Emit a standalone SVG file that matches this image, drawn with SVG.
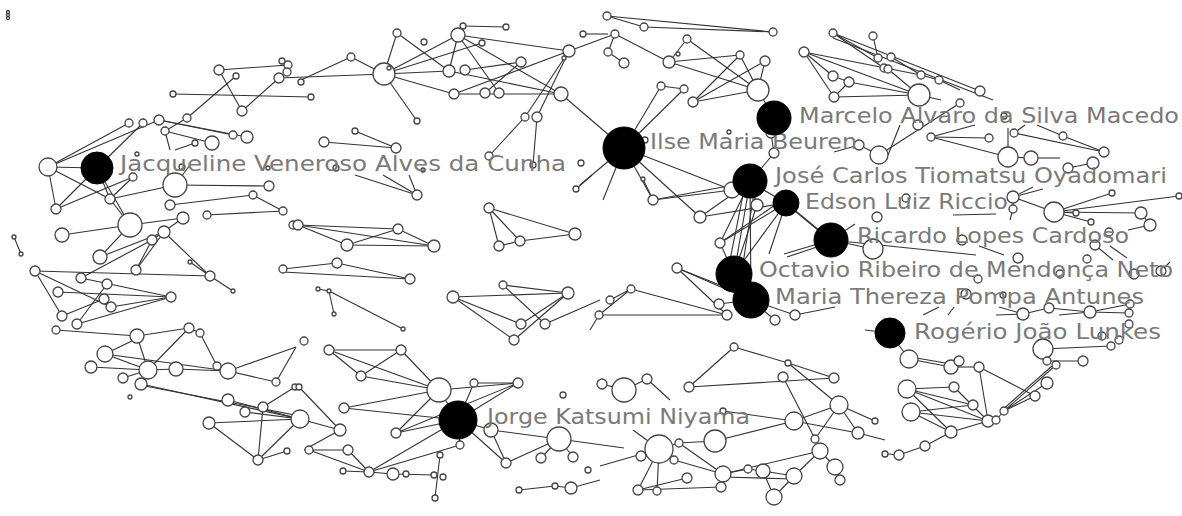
<svg xmlns="http://www.w3.org/2000/svg" width="1182" height="516" viewBox="0 0 1182 516">
<style>
.e line{stroke:#333;stroke-width:1.1}
.n circle{fill:#fff;stroke:#444;stroke-width:1.3}
.k circle{fill:#000;stroke:#000;stroke-width:1}
.k text{font-family:"DejaVu Sans",Verdana,sans-serif;font-size:21px;fill:#7a7a7a}
</style>
<rect width="1182" height="516" fill="#fff"/>
<g id="connectors" class="e">
<line x1="219" y1="70" x2="288" y2="65"/><line x1="219" y1="70" x2="242" y2="111"/><line x1="236" y1="76" x2="187" y2="118"/><line x1="242" y1="111" x2="279" y2="78"/><line x1="173" y1="94" x2="311" y2="97"/>
<line x1="129" y1="123" x2="48" y2="167"/><line x1="159" y1="120" x2="48" y2="167"/><line x1="143" y1="123" x2="97" y2="168"/><line x1="159" y1="120" x2="247" y2="137"/><line x1="159" y1="120" x2="233" y2="135"/><line x1="165" y1="131" x2="212" y2="143"/><line x1="165" y1="131" x2="170" y2="150"/><line x1="187" y1="118" x2="165" y2="131"/><line x1="195" y1="143" x2="175" y2="150"/><line x1="48" y1="167" x2="97" y2="168"/>
<line x1="384" y1="74" x2="351" y2="57"/><line x1="351" y1="57" x2="301" y2="80"/><line x1="279" y1="78" x2="384" y2="74"/><line x1="384" y1="74" x2="397" y2="33"/><line x1="397" y1="33" x2="449" y2="71"/><line x1="384" y1="74" x2="417" y2="121"/><line x1="384" y1="74" x2="458" y2="35"/><line x1="384" y1="74" x2="482" y2="43"/><line x1="384" y1="74" x2="449" y2="71"/><line x1="384" y1="74" x2="454" y2="94"/><line x1="463" y1="26" x2="506" y2="27"/><line x1="458" y1="35" x2="449" y2="71"/><line x1="458" y1="35" x2="499" y2="93"/><line x1="458" y1="35" x2="569" y2="51"/><line x1="458" y1="35" x2="561" y2="94"/><line x1="465" y1="70" x2="521" y2="62"/><line x1="449" y1="71" x2="561" y2="94"/><line x1="454" y1="94" x2="561" y2="94"/><line x1="454" y1="94" x2="569" y2="51"/><line x1="485" y1="93" x2="521" y2="62"/><line x1="525" y1="117" x2="569" y2="51"/><line x1="537" y1="117" x2="569" y2="51"/><line x1="525" y1="117" x2="489" y2="156"/><line x1="537" y1="117" x2="533" y2="165"/><line x1="569" y1="51" x2="615" y2="34"/><line x1="583" y1="34" x2="608" y2="34"/><line x1="324" y1="142" x2="396" y2="148"/><line x1="355" y1="131" x2="396" y2="148"/><line x1="561" y1="94" x2="624" y2="148"/>
<line x1="607" y1="16" x2="773" y2="32"/><line x1="644" y1="27" x2="773" y2="32"/><line x1="607" y1="16" x2="644" y2="27"/><line x1="615" y1="34" x2="669" y2="62"/><line x1="615" y1="34" x2="608" y2="52"/><line x1="608" y1="52" x2="624" y2="63"/><line x1="669" y1="62" x2="687" y2="39"/><line x1="669" y1="62" x2="740" y2="55"/><line x1="669" y1="62" x2="758" y2="90"/><line x1="687" y1="39" x2="758" y2="90"/><line x1="740" y1="55" x2="693" y2="102"/><line x1="765" y1="61" x2="693" y2="102"/><line x1="765" y1="61" x2="758" y2="90"/><line x1="740" y1="55" x2="758" y2="90"/><line x1="758" y1="90" x2="774" y2="118"/><line x1="758" y1="90" x2="693" y2="102"/><line x1="624" y1="148" x2="661" y2="86"/><line x1="624" y1="148" x2="684" y2="89"/><line x1="661" y1="86" x2="684" y2="89"/>
<line x1="804" y1="52" x2="834" y2="97"/><line x1="804" y1="52" x2="833" y2="76"/><line x1="833" y1="76" x2="849" y2="82"/><line x1="834" y1="97" x2="849" y2="82"/><line x1="833" y1="33" x2="884" y2="68"/><line x1="833" y1="33" x2="878" y2="58"/><line x1="873" y1="36" x2="878" y2="58"/><line x1="804" y1="52" x2="921" y2="75"/><line x1="833" y1="33" x2="980" y2="91"/><line x1="833" y1="38" x2="993" y2="100"/><line x1="804" y1="52" x2="919" y2="95"/><line x1="834" y1="97" x2="919" y2="95"/><line x1="849" y1="82" x2="919" y2="95"/>
<line x1="774" y1="118" x2="787" y2="109"/><line x1="774" y1="118" x2="771" y2="133"/><line x1="774" y1="153" x2="771" y2="133"/><line x1="774" y1="153" x2="750" y2="182"/><line x1="859" y1="145" x2="879" y2="155"/><line x1="834" y1="152" x2="859" y2="145"/>
<line x1="624" y1="148" x2="580" y2="185"/><line x1="624" y1="148" x2="603" y2="200"/><line x1="624" y1="148" x2="653" y2="200"/><line x1="624" y1="148" x2="645" y2="140"/><line x1="624" y1="148" x2="732" y2="190"/><line x1="624" y1="148" x2="700" y2="217"/>
<line x1="891" y1="57" x2="921" y2="75"/><line x1="888" y1="69" x2="919" y2="95"/><line x1="921" y1="75" x2="939" y2="80"/><line x1="939" y1="80" x2="960" y2="90"/><line x1="919" y1="95" x2="941" y2="100"/><line x1="1014" y1="133" x2="1104" y2="152"/><line x1="989" y1="138" x2="931" y2="137"/><line x1="931" y1="137" x2="1008" y2="157"/><line x1="1008" y1="157" x2="1008" y2="128"/><line x1="1008" y1="157" x2="1031" y2="158"/><line x1="1031" y1="158" x2="1060" y2="158"/><line x1="1037" y1="125" x2="1063" y2="136"/><line x1="1063" y1="136" x2="1104" y2="152"/><line x1="888" y1="155" x2="900" y2="125"/><line x1="931" y1="137" x2="975" y2="125"/><line x1="1068" y1="168" x2="1093" y2="163"/><line x1="1014" y1="133" x2="1025" y2="125"/><line x1="879" y1="155" x2="960" y2="103"/>
<line x1="175" y1="185" x2="269" y2="186"/><line x1="253" y1="195" x2="170" y2="205"/><line x1="253" y1="195" x2="283" y2="211"/><line x1="207" y1="215" x2="283" y2="211"/><line x1="130" y1="225" x2="183" y2="218"/><line x1="130" y1="225" x2="62" y2="235"/><line x1="130" y1="225" x2="110" y2="199"/><line x1="130" y1="225" x2="100" y2="257"/><line x1="130" y1="225" x2="97" y2="168"/><line x1="164" y1="232" x2="100" y2="257"/><line x1="152" y1="240" x2="81" y2="278"/><line x1="152" y1="240" x2="136" y2="270"/><line x1="164" y1="232" x2="210" y2="276"/><line x1="190" y1="262" x2="210" y2="276"/><line x1="210" y1="276" x2="233" y2="291"/><line x1="35" y1="271" x2="210" y2="276"/><line x1="35" y1="271" x2="62" y2="316"/><line x1="35" y1="271" x2="111" y2="307"/><line x1="81" y1="278" x2="171" y2="297"/><line x1="58" y1="292" x2="171" y2="297"/><line x1="104" y1="299" x2="62" y2="316"/><line x1="111" y1="307" x2="171" y2="297"/><line x1="77" y1="324" x2="107" y2="284"/><line x1="77" y1="324" x2="171" y2="297"/><line x1="56" y1="330" x2="137" y2="336"/><line x1="137" y1="336" x2="189" y2="328"/><line x1="189" y1="328" x2="200" y2="333"/><line x1="14" y1="237" x2="21" y2="254"/><line x1="56" y1="209" x2="97" y2="168"/><line x1="56" y1="209" x2="133" y2="177"/><line x1="110" y1="199" x2="133" y2="177"/><line x1="110" y1="199" x2="175" y2="185"/><line x1="97" y1="168" x2="110" y2="199"/><line x1="175" y1="185" x2="190" y2="165"/><line x1="48" y1="167" x2="56" y2="209"/><line x1="48" y1="167" x2="110" y2="199"/><line x1="152" y1="240" x2="183" y2="218"/><line x1="164" y1="232" x2="136" y2="270"/>
<line x1="417" y1="195" x2="355" y2="175"/><line x1="417" y1="195" x2="383" y2="175"/><line x1="417" y1="195" x2="409" y2="175"/><line x1="489" y1="208" x2="499" y2="246"/><line x1="489" y1="208" x2="520" y2="241"/><line x1="489" y1="208" x2="575" y2="234"/><line x1="499" y1="246" x2="520" y2="241"/><line x1="520" y1="241" x2="575" y2="234"/><line x1="298" y1="225" x2="398" y2="229"/><line x1="298" y1="225" x2="347" y2="245"/><line x1="298" y1="225" x2="434" y2="246"/><line x1="347" y1="245" x2="398" y2="229"/><line x1="347" y1="245" x2="434" y2="246"/><line x1="398" y1="229" x2="434" y2="246"/><line x1="283" y1="269" x2="337" y2="263"/><line x1="337" y1="263" x2="410" y2="279"/><line x1="283" y1="272" x2="410" y2="279"/><line x1="318" y1="289" x2="329" y2="291"/><line x1="329" y1="291" x2="334" y2="314"/><line x1="329" y1="291" x2="403" y2="329"/><line x1="453" y1="297" x2="568" y2="293"/><line x1="453" y1="297" x2="521" y2="324"/><line x1="453" y1="297" x2="514" y2="340"/><line x1="503" y1="285" x2="568" y2="293"/><line x1="503" y1="285" x2="545" y2="324"/><line x1="568" y1="293" x2="514" y2="340"/><line x1="568" y1="293" x2="521" y2="324"/><line x1="545" y1="324" x2="600" y2="300"/><line x1="576" y1="189" x2="592" y2="175"/>
<line x1="750" y1="182" x2="653" y2="200"/><line x1="750" y1="182" x2="700" y2="217"/><line x1="750" y1="182" x2="720" y2="243"/><line x1="750" y1="182" x2="734" y2="274"/><line x1="745" y1="185" x2="728" y2="270"/><line x1="755" y1="186" x2="742" y2="270"/><line x1="750" y1="182" x2="751" y2="300"/><line x1="750" y1="182" x2="757" y2="205"/><line x1="750" y1="182" x2="786" y2="203"/><line x1="786" y1="203" x2="700" y2="217"/><line x1="786" y1="203" x2="831" y2="240"/><line x1="790" y1="207" x2="835" y2="244"/><line x1="786" y1="203" x2="734" y2="274"/><line x1="786" y1="203" x2="769" y2="254"/><line x1="786" y1="203" x2="720" y2="243"/><line x1="831" y1="240" x2="873" y2="249"/><line x1="831" y1="240" x2="784" y2="254"/><line x1="826" y1="244" x2="787" y2="257"/><line x1="831" y1="240" x2="976" y2="255"/><line x1="831" y1="240" x2="855" y2="224"/><line x1="653" y1="200" x2="643" y2="179"/><line x1="653" y1="200" x2="732" y2="190"/><line x1="720" y1="243" x2="775" y2="205"/><line x1="677" y1="268" x2="751" y2="300"/><line x1="677" y1="268" x2="745" y2="295"/><line x1="677" y1="268" x2="727" y2="315"/><line x1="599" y1="315" x2="727" y2="315"/><line x1="599" y1="315" x2="631" y2="289"/><line x1="610" y1="300" x2="631" y2="289"/><line x1="631" y1="289" x2="727" y2="315"/><line x1="734" y1="274" x2="751" y2="300"/><line x1="751" y1="300" x2="775" y2="320"/><line x1="751" y1="300" x2="795" y2="315"/><line x1="795" y1="315" x2="835" y2="307"/><line x1="719" y1="304" x2="751" y2="300"/><line x1="734" y1="274" x2="720" y2="243"/><line x1="734" y1="274" x2="757" y2="205"/>
<line x1="1054" y1="212" x2="1112" y2="193"/><line x1="1054" y1="212" x2="1179" y2="196"/><line x1="1054" y1="212" x2="1141" y2="213"/><line x1="1054" y1="212" x2="1091" y2="222"/><line x1="1054" y1="212" x2="1076" y2="213"/><line x1="1141" y1="213" x2="1150" y2="225"/><line x1="1150" y1="225" x2="1128" y2="230"/><line x1="1013" y1="197" x2="1033" y2="187"/><line x1="1013" y1="197" x2="1043" y2="189"/><line x1="1013" y1="209" x2="1010" y2="220"/><line x1="953" y1="215" x2="996" y2="214"/><line x1="979" y1="246" x2="1004" y2="255"/><line x1="1095" y1="245" x2="1113" y2="260"/><line x1="1110" y1="246" x2="1127" y2="258"/><line x1="999" y1="307" x2="1023" y2="314"/><line x1="996" y1="315" x2="1023" y2="314"/><line x1="1023" y1="314" x2="1049" y2="308"/><line x1="1049" y1="308" x2="1090" y2="312"/><line x1="1059" y1="315" x2="1090" y2="312"/><line x1="1090" y1="312" x2="1130" y2="304"/><line x1="1090" y1="312" x2="1129" y2="313"/><line x1="939" y1="307" x2="923" y2="315"/><line x1="954" y1="307" x2="948" y2="315"/><line x1="1013" y1="197" x2="1013" y2="209"/><line x1="1054" y1="212" x2="1013" y2="197"/><line x1="1161" y1="271" x2="1170" y2="262"/>
<line x1="105" y1="354" x2="148" y2="370"/><line x1="91" y1="367" x2="148" y2="370"/><line x1="105" y1="354" x2="228" y2="371"/><line x1="148" y1="370" x2="176" y2="369"/><line x1="176" y1="369" x2="228" y2="371"/><line x1="141" y1="384" x2="300" y2="419"/><line x1="145" y1="386" x2="300" y2="416"/><line x1="228" y1="400" x2="300" y2="419"/><line x1="245" y1="412" x2="300" y2="419"/><line x1="209" y1="423" x2="300" y2="419"/><line x1="209" y1="423" x2="258" y2="460"/><line x1="263" y1="407" x2="258" y2="460"/><line x1="258" y1="460" x2="300" y2="419"/><line x1="228" y1="371" x2="296" y2="347"/><line x1="228" y1="371" x2="276" y2="382"/><line x1="276" y1="382" x2="296" y2="347"/><line x1="123" y1="378" x2="148" y2="370"/><line x1="141" y1="384" x2="148" y2="370"/><line x1="105" y1="354" x2="140" y2="337"/><line x1="148" y1="370" x2="137" y2="336"/><line x1="148" y1="370" x2="189" y2="328"/><line x1="217" y1="366" x2="200" y2="333"/><line x1="258" y1="460" x2="287" y2="451"/><line x1="263" y1="407" x2="295" y2="387"/>
<line x1="329" y1="350" x2="401" y2="350"/><line x1="329" y1="350" x2="439" y2="390"/><line x1="329" y1="350" x2="361" y2="376"/><line x1="401" y1="350" x2="361" y2="376"/><line x1="401" y1="350" x2="439" y2="390"/><line x1="361" y1="376" x2="439" y2="390"/><line x1="439" y1="390" x2="458" y2="420"/><line x1="439" y1="390" x2="518" y2="383"/><line x1="474" y1="383" x2="458" y2="420"/><line x1="518" y1="383" x2="458" y2="420"/><line x1="474" y1="383" x2="518" y2="383"/><line x1="344" y1="408" x2="439" y2="390"/><line x1="344" y1="408" x2="458" y2="420"/><line x1="396" y1="433" x2="458" y2="420"/><line x1="396" y1="433" x2="439" y2="390"/><line x1="396" y1="433" x2="518" y2="383"/><line x1="458" y1="420" x2="460" y2="445"/><line x1="458" y1="420" x2="369" y2="472"/><line x1="458" y1="420" x2="491" y2="430"/><line x1="458" y1="420" x2="506" y2="463"/><line x1="491" y1="430" x2="559" y2="439"/><line x1="491" y1="430" x2="506" y2="463"/><line x1="506" y1="463" x2="559" y2="439"/><line x1="299" y1="387" x2="340" y2="430"/><line x1="300" y1="419" x2="340" y2="430"/><line x1="309" y1="450" x2="369" y2="472"/><line x1="348" y1="450" x2="369" y2="472"/><line x1="309" y1="450" x2="348" y2="450"/><line x1="343" y1="471" x2="369" y2="472"/><line x1="369" y1="472" x2="393" y2="474"/><line x1="393" y1="474" x2="434" y2="475"/><line x1="440" y1="455" x2="435" y2="498"/><line x1="519" y1="490" x2="555" y2="486"/><line x1="369" y1="472" x2="460" y2="445"/><line x1="541" y1="458" x2="559" y2="439"/><line x1="573" y1="457" x2="559" y2="439"/><line x1="559" y1="439" x2="624" y2="448"/><line x1="555" y1="486" x2="571" y2="488"/><line x1="571" y1="488" x2="600" y2="480"/><line x1="340" y1="430" x2="304" y2="450"/>
<line x1="734" y1="347" x2="689" y2="387"/><line x1="734" y1="347" x2="788" y2="363"/><line x1="788" y1="363" x2="834" y2="378"/><line x1="689" y1="387" x2="834" y2="378"/><line x1="783" y1="377" x2="815" y2="439"/><line x1="788" y1="363" x2="839" y2="405"/><line x1="839" y1="405" x2="794" y2="421"/><line x1="839" y1="405" x2="858" y2="433"/><line x1="839" y1="405" x2="815" y2="439"/><line x1="839" y1="405" x2="875" y2="421"/><line x1="794" y1="421" x2="715" y2="441"/><line x1="794" y1="421" x2="723" y2="411"/><line x1="794" y1="421" x2="858" y2="433"/><line x1="858" y1="433" x2="885" y2="440"/><line x1="659" y1="449" x2="679" y2="443"/><line x1="659" y1="449" x2="641" y2="456"/><line x1="659" y1="449" x2="674" y2="460"/><line x1="679" y1="443" x2="715" y2="441"/><line x1="679" y1="443" x2="723" y2="474"/><line x1="674" y1="460" x2="723" y2="474"/><line x1="723" y1="474" x2="748" y2="469"/><line x1="748" y1="469" x2="763" y2="471"/><line x1="763" y1="471" x2="794" y2="476"/><line x1="794" y1="476" x2="820" y2="451"/><line x1="723" y1="474" x2="721" y2="487"/><line x1="763" y1="471" x2="774" y2="497"/><line x1="794" y1="476" x2="774" y2="497"/><line x1="820" y1="451" x2="835" y2="467"/><line x1="835" y1="467" x2="840" y2="480"/><line x1="659" y1="449" x2="638" y2="490"/><line x1="659" y1="449" x2="657" y2="491"/><line x1="602" y1="384" x2="624" y2="390"/><line x1="624" y1="390" x2="647" y2="379"/><line x1="647" y1="379" x2="670" y2="400"/><line x1="659" y1="449" x2="633" y2="430"/><line x1="659" y1="449" x2="600" y2="466"/><line x1="638" y1="490" x2="721" y2="487"/><line x1="687" y1="478" x2="638" y2="490"/><line x1="723" y1="474" x2="820" y2="451"/><line x1="723" y1="477" x2="794" y2="479"/><line x1="599" y1="315" x2="590" y2="330"/>
<line x1="909" y1="359" x2="951" y2="367"/><line x1="905" y1="356" x2="951" y2="364"/><line x1="951" y1="367" x2="979" y2="367"/><line x1="979" y1="367" x2="1035" y2="396"/><line x1="979" y1="367" x2="988" y2="421"/><line x1="1043" y1="349" x2="1111" y2="346"/><line x1="1047" y1="361" x2="1083" y2="361"/><line x1="1056" y1="365" x2="1004" y2="411"/><line x1="1047" y1="383" x2="1004" y2="411"/><line x1="1035" y1="396" x2="1004" y2="411"/><line x1="907" y1="389" x2="954" y2="387"/><line x1="907" y1="389" x2="973" y2="405"/><line x1="907" y1="389" x2="988" y2="421"/><line x1="911" y1="412" x2="973" y2="405"/><line x1="911" y1="412" x2="988" y2="421"/><line x1="911" y1="412" x2="951" y2="432"/><line x1="951" y1="432" x2="988" y2="421"/><line x1="951" y1="432" x2="925" y2="446"/><line x1="925" y1="446" x2="899" y2="455"/><line x1="907" y1="389" x2="951" y2="432"/><line x1="1052" y1="366" x2="1000" y2="412"/><line x1="888" y1="454" x2="899" y2="455"/><line x1="996" y1="420" x2="1004" y2="411"/><line x1="909" y1="359" x2="890" y2="333"/><line x1="890" y1="333" x2="865" y2="330"/><line x1="954" y1="387" x2="988" y2="421"/>
</g>
<g id="mark" class="n"><circle cx="8" cy="12" r="1.5"/><circle cx="8" cy="15" r="1.5"/><circle cx="8" cy="18" r="1.5"/></g>
<g id="w1" class="n"><circle cx="219" cy="70" r="5"/></g><g id="w2" class="n"><circle cx="236" cy="76" r="3"/></g><g id="w3" class="n"><circle cx="282" cy="61" r="3"/></g><g id="w4" class="n"><circle cx="288" cy="65" r="4"/></g><g id="w5" class="n"><circle cx="287" cy="72" r="4"/></g><g id="w6" class="n"><circle cx="279" cy="78" r="5"/></g><g id="w7" class="n"><circle cx="173" cy="94" r="3"/></g><g id="w8" class="n"><circle cx="242" cy="111" r="5"/></g><g id="w9" class="n"><circle cx="187" cy="118" r="4"/></g><g id="w10" class="n"><circle cx="129" cy="123" r="4"/></g><g id="w11" class="n"><circle cx="143" cy="123" r="4"/></g><g id="w12" class="n"><circle cx="159" cy="120" r="5"/></g><g id="w13" class="n"><circle cx="165" cy="131" r="4"/></g><g id="w14" class="n"><circle cx="195" cy="143" r="3"/></g><g id="w15" class="n"><circle cx="212" cy="143" r="7"/></g><g id="w16" class="n"><circle cx="233" cy="135" r="4"/></g><g id="w17" class="n"><circle cx="247" cy="137" r="6"/></g><g id="w18" class="n"><circle cx="48" cy="167" r="9"/></g><g id="w19" class="n"><circle cx="182" cy="167" r="3"/></g><g id="w20" class="n"><circle cx="268" cy="168" r="2"/></g><g id="w21" class="n"><circle cx="137" cy="154" r="2"/></g>
<g id="w22" class="n"><circle cx="397" cy="33" r="4"/></g><g id="w23" class="n"><circle cx="424" cy="42" r="3"/></g><g id="w24" class="n"><circle cx="351" cy="57" r="4"/></g><g id="w25" class="n"><circle cx="384" cy="74" r="11"/></g><g id="w26" class="n"><circle cx="389" cy="68" r="2"/></g><g id="w27" class="n"><circle cx="301" cy="82" r="3"/></g><g id="w28" class="n"><circle cx="311" cy="97" r="3"/></g><g id="w29" class="n"><circle cx="417" cy="121" r="3"/></g><g id="w30" class="n"><circle cx="463" cy="26" r="3"/></g><g id="w31" class="n"><circle cx="506" cy="27" r="3"/></g><g id="w32" class="n"><circle cx="458" cy="35" r="7"/></g><g id="w33" class="n"><circle cx="482" cy="43" r="3"/></g><g id="w34" class="n"><circle cx="449" cy="71" r="6"/></g><g id="w35" class="n"><circle cx="465" cy="70" r="5"/></g><g id="w36" class="n"><circle cx="521" cy="62" r="5"/></g><g id="w37" class="n"><circle cx="569" cy="51" r="6"/></g><g id="w38" class="n"><circle cx="583" cy="34" r="3"/></g><g id="w39" class="n"><circle cx="564" cy="58" r="2"/></g><g id="w40" class="n"><circle cx="454" cy="94" r="5"/></g><g id="w41" class="n"><circle cx="485" cy="93" r="5"/></g><g id="w42" class="n"><circle cx="499" cy="93" r="5"/></g><g id="w43" class="n"><circle cx="561" cy="94" r="7"/></g><g id="w44" class="n"><circle cx="525" cy="117" r="4"/></g><g id="w45" class="n"><circle cx="537" cy="117" r="5"/></g><g id="w46" class="n"><circle cx="324" cy="142" r="5"/></g><g id="w47" class="n"><circle cx="355" cy="131" r="3"/></g><g id="w48" class="n"><circle cx="396" cy="148" r="5"/></g><g id="w49" class="n"><circle cx="489" cy="156" r="4"/></g><g id="w50" class="n"><circle cx="533" cy="165" r="3"/></g><g id="w51" class="n"><circle cx="581" cy="163" r="3"/></g><g id="w52" class="n"><circle cx="336" cy="168" r="3"/></g><g id="w53" class="n"><circle cx="423" cy="170" r="2"/></g>
<g id="w54" class="n"><circle cx="607" cy="16" r="4"/></g><g id="w55" class="n"><circle cx="644" cy="27" r="4"/></g><g id="w56" class="n"><circle cx="773" cy="32" r="4"/></g><g id="w57" class="n"><circle cx="615" cy="34" r="4"/></g><g id="w58" class="n"><circle cx="608" cy="52" r="4"/></g><g id="w59" class="n"><circle cx="624" cy="63" r="5"/></g><g id="w60" class="n"><circle cx="687" cy="39" r="4"/></g><g id="w61" class="n"><circle cx="678" cy="54" r="2"/></g><g id="w62" class="n"><circle cx="669" cy="62" r="6"/></g><g id="w63" class="n"><circle cx="740" cy="55" r="4"/></g><g id="w64" class="n"><circle cx="765" cy="61" r="5"/></g><g id="w65" class="n"><circle cx="758" cy="90" r="11"/></g><g id="w66" class="n"><circle cx="693" cy="102" r="5"/></g><g id="w67" class="n"><circle cx="661" cy="86" r="4"/></g><g id="w68" class="n"><circle cx="684" cy="89" r="4"/></g><g id="w69" class="n"><circle cx="804" cy="52" r="5"/></g><g id="w70" class="n"><circle cx="833" cy="33" r="4"/></g><g id="w71" class="n"><circle cx="873" cy="36" r="4"/></g><g id="w72" class="n"><circle cx="878" cy="58" r="4"/></g><g id="w73" class="n"><circle cx="884" cy="68" r="4"/></g><g id="w74" class="n"><circle cx="833" cy="76" r="5"/></g><g id="w75" class="n"><circle cx="849" cy="82" r="5"/></g><g id="w76" class="n"><circle cx="834" cy="97" r="5"/></g><g id="w77" class="n"><circle cx="771" cy="133" r="5"/></g><g id="w78" class="n"><circle cx="774" cy="153" r="5"/></g><g id="w79" class="n"><circle cx="729" cy="132" r="2"/></g><g id="w80" class="n"><circle cx="645" cy="140" r="3"/></g><g id="w81" class="n"><circle cx="859" cy="145" r="5"/></g><g id="w82" class="n"><circle cx="879" cy="155" r="9"/></g>
<g id="w83" class="n"><circle cx="891" cy="57" r="4"/></g><g id="w84" class="n"><circle cx="888" cy="69" r="4"/></g><g id="w85" class="n"><circle cx="921" cy="75" r="4"/></g><g id="w86" class="n"><circle cx="939" cy="80" r="4"/></g><g id="w87" class="n"><circle cx="980" cy="91" r="5"/></g><g id="w88" class="n"><circle cx="919" cy="95" r="11"/></g><g id="w89" class="n"><circle cx="960" cy="103" r="4"/></g><g id="w90" class="n"><circle cx="1004" cy="116" r="3"/></g><g id="w91" class="n"><circle cx="918" cy="125" r="5"/></g><g id="w92" class="n"><circle cx="931" cy="137" r="4"/></g><g id="w93" class="n"><circle cx="989" cy="138" r="4"/></g><g id="w94" class="n"><circle cx="1014" cy="133" r="4"/></g><g id="w95" class="n"><circle cx="1063" cy="136" r="4"/></g><g id="w96" class="n"><circle cx="1104" cy="152" r="5"/></g><g id="w97" class="n"><circle cx="1008" cy="157" r="10"/></g><g id="w98" class="n"><circle cx="1031" cy="158" r="7"/></g><g id="w99" class="n"><circle cx="1068" cy="168" r="5"/></g><g id="w100" class="n"><circle cx="1093" cy="163" r="6"/></g>
<g id="w101" class="n"><circle cx="133" cy="177" r="4"/></g><g id="w102" class="n"><circle cx="175" cy="185" r="12"/></g><g id="w103" class="n"><circle cx="269" cy="186" r="5"/></g><g id="w104" class="n"><circle cx="253" cy="195" r="4"/></g><g id="w105" class="n"><circle cx="283" cy="211" r="4"/></g><g id="w106" class="n"><circle cx="207" cy="215" r="4"/></g><g id="w107" class="n"><circle cx="170" cy="205" r="5"/></g><g id="w108" class="n"><circle cx="110" cy="199" r="5"/></g><g id="w109" class="n"><circle cx="56" cy="209" r="5"/></g><g id="w110" class="n"><circle cx="130" cy="225" r="12"/></g><g id="w111" class="n"><circle cx="183" cy="218" r="6"/></g><g id="w112" class="n"><circle cx="164" cy="232" r="6"/></g><g id="w113" class="n"><circle cx="62" cy="235" r="7"/></g><g id="w114" class="n"><circle cx="152" cy="240" r="5"/></g><g id="w115" class="n"><circle cx="100" cy="257" r="7"/></g><g id="w116" class="n"><circle cx="14" cy="237" r="2"/></g><g id="w117" class="n"><circle cx="21" cy="254" r="2"/></g><g id="w118" class="n"><circle cx="190" cy="262" r="2"/></g><g id="w119" class="n"><circle cx="210" cy="276" r="5"/></g><g id="w120" class="n"><circle cx="233" cy="291" r="2"/></g><g id="w121" class="n"><circle cx="136" cy="270" r="5"/></g><g id="w122" class="n"><circle cx="35" cy="271" r="5"/></g><g id="w123" class="n"><circle cx="81" cy="278" r="5"/></g><g id="w124" class="n"><circle cx="107" cy="284" r="5"/></g><g id="w125" class="n"><circle cx="58" cy="292" r="5"/></g><g id="w126" class="n"><circle cx="104" cy="299" r="5"/></g><g id="w127" class="n"><circle cx="171" cy="297" r="5"/></g><g id="w128" class="n"><circle cx="111" cy="307" r="5"/></g><g id="w129" class="n"><circle cx="62" cy="316" r="5"/></g><g id="w130" class="n"><circle cx="77" cy="324" r="5"/></g><g id="w131" class="n"><circle cx="56" cy="330" r="4"/></g><g id="w132" class="n"><circle cx="137" cy="336" r="7"/></g><g id="w133" class="n"><circle cx="189" cy="328" r="5"/></g><g id="w134" class="n"><circle cx="200" cy="333" r="4"/></g><g id="w135" class="n"><circle cx="283" cy="269" r="4"/></g><g id="w136" class="n"><circle cx="293" cy="225" r="4"/></g>
<g id="w137" class="n"><circle cx="417" cy="195" r="5"/></g><g id="w138" class="n"><circle cx="576" cy="189" r="3"/></g><g id="w139" class="n"><circle cx="489" cy="208" r="5"/></g><g id="w140" class="n"><circle cx="575" cy="234" r="6"/></g><g id="w141" class="n"><circle cx="520" cy="241" r="5"/></g><g id="w142" class="n"><circle cx="499" cy="246" r="5"/></g><g id="w143" class="n"><circle cx="298" cy="225" r="5"/></g><g id="w144" class="n"><circle cx="398" cy="229" r="5"/></g><g id="w145" class="n"><circle cx="347" cy="245" r="6"/></g><g id="w146" class="n"><circle cx="434" cy="246" r="6"/></g><g id="w147" class="n"><circle cx="337" cy="263" r="5"/></g><g id="w148" class="n"><circle cx="410" cy="279" r="5"/></g><g id="w149" class="n"><circle cx="318" cy="289" r="2"/></g><g id="w150" class="n"><circle cx="329" cy="291" r="2"/></g><g id="w151" class="n"><circle cx="334" cy="314" r="2"/></g><g id="w152" class="n"><circle cx="403" cy="329" r="2"/></g><g id="w153" class="n"><circle cx="503" cy="285" r="4"/></g><g id="w154" class="n"><circle cx="453" cy="297" r="6"/></g><g id="w155" class="n"><circle cx="568" cy="293" r="6"/></g><g id="w156" class="n"><circle cx="521" cy="324" r="5"/></g><g id="w157" class="n"><circle cx="545" cy="324" r="5"/></g><g id="w158" class="n"><circle cx="514" cy="340" r="5"/></g><g id="w159" class="n"><circle cx="304" cy="341" r="4"/></g>
<g id="w160" class="n"><circle cx="643" cy="179" r="2"/></g><g id="w161" class="n"><circle cx="653" cy="200" r="5"/></g><g id="w162" class="n"><circle cx="732" cy="190" r="8"/></g><g id="w163" class="n"><circle cx="757" cy="205" r="6"/></g><g id="w164" class="n"><circle cx="700" cy="217" r="6"/></g><g id="w165" class="n"><circle cx="720" cy="243" r="5"/></g><g id="w166" class="n"><circle cx="877" cy="217" r="5"/></g><g id="w167" class="n"><circle cx="873" cy="249" r="10"/></g><g id="w168" class="n"><circle cx="677" cy="268" r="5"/></g><g id="w169" class="n"><circle cx="631" cy="289" r="4"/></g><g id="w170" class="n"><circle cx="610" cy="300" r="4"/></g><g id="w171" class="n"><circle cx="599" cy="315" r="4"/></g><g id="w172" class="n"><circle cx="727" cy="315" r="5"/></g><g id="w173" class="n"><circle cx="719" cy="304" r="5"/></g><g id="w174" class="n"><circle cx="775" cy="320" r="5"/></g><g id="w175" class="n"><circle cx="795" cy="315" r="5"/></g>
<g id="w176" class="n"><circle cx="1013" cy="197" r="6"/></g><g id="w177" class="n"><circle cx="1013" cy="209" r="4"/></g><g id="w178" class="n"><circle cx="906" cy="198" r="4"/></g><g id="w179" class="n"><circle cx="1054" cy="212" r="10"/></g><g id="w180" class="n"><circle cx="1076" cy="213" r="3"/></g><g id="w181" class="n"><circle cx="1112" cy="193" r="3"/></g><g id="w182" class="n"><circle cx="1179" cy="196" r="3"/></g><g id="w183" class="n"><circle cx="1141" cy="213" r="6"/></g><g id="w184" class="n"><circle cx="1150" cy="225" r="6"/></g><g id="w185" class="n"><circle cx="1091" cy="222" r="3"/></g><g id="w186" class="n"><circle cx="962" cy="240" r="5"/></g><g id="w187" class="n"><circle cx="1109" cy="232" r="4"/></g><g id="w188" class="n"><circle cx="1095" cy="245" r="5"/></g><g id="w189" class="n"><circle cx="1018" cy="258" r="5"/></g><g id="w190" class="n"><circle cx="1087" cy="259" r="4"/></g><g id="w191" class="n"><circle cx="978" cy="279" r="4"/></g><g id="w192" class="n"><circle cx="1060" cy="274" r="4"/></g><g id="w193" class="n"><circle cx="1134" cy="274" r="5"/></g><g id="w194" class="n"><circle cx="1161" cy="271" r="5"/></g><g id="w195" class="n"><circle cx="966" cy="294" r="5"/></g><g id="w196" class="n"><circle cx="1003" cy="295" r="3"/></g><g id="w197" class="n"><circle cx="1023" cy="314" r="6"/></g><g id="w198" class="n"><circle cx="1049" cy="308" r="5"/></g><g id="w199" class="n"><circle cx="1090" cy="312" r="6"/></g><g id="w200" class="n"><circle cx="1130" cy="304" r="4"/></g><g id="w201" class="n"><circle cx="1129" cy="313" r="4"/></g><g id="w202" class="n"><circle cx="1129" cy="324" r="4"/></g><g id="w203" class="n"><circle cx="1102" cy="336" r="4"/></g><g id="w204" class="n"><circle cx="1119" cy="340" r="4"/></g>
<g id="w205" class="n"><circle cx="105" cy="354" r="8"/></g><g id="w206" class="n"><circle cx="91" cy="367" r="6"/></g><g id="w207" class="n"><circle cx="148" cy="370" r="9"/></g><g id="w208" class="n"><circle cx="176" cy="369" r="7"/></g><g id="w209" class="n"><circle cx="228" cy="371" r="8"/></g><g id="w210" class="n"><circle cx="217" cy="366" r="4"/></g><g id="w211" class="n"><circle cx="123" cy="378" r="5"/></g><g id="w212" class="n"><circle cx="141" cy="384" r="6"/></g><g id="w213" class="n"><circle cx="130" cy="397" r="2"/></g><g id="w214" class="n"><circle cx="276" cy="382" r="4"/></g><g id="w215" class="n"><circle cx="228" cy="400" r="6"/></g><g id="w216" class="n"><circle cx="245" cy="412" r="5"/></g><g id="w217" class="n"><circle cx="263" cy="407" r="5"/></g><g id="w218" class="n"><circle cx="209" cy="423" r="6"/></g><g id="w219" class="n"><circle cx="258" cy="460" r="5"/></g><g id="w220" class="n"><circle cx="287" cy="451" r="3"/></g><g id="w221" class="n"><circle cx="295" cy="387" r="3"/></g>
<g id="w222" class="n"><circle cx="329" cy="350" r="5"/></g><g id="w223" class="n"><circle cx="401" cy="350" r="5"/></g><g id="w224" class="n"><circle cx="361" cy="376" r="5"/></g><g id="w225" class="n"><circle cx="439" cy="390" r="12"/></g><g id="w226" class="n"><circle cx="474" cy="383" r="4"/></g><g id="w227" class="n"><circle cx="518" cy="383" r="5"/></g><g id="w228" class="n"><circle cx="344" cy="408" r="5"/></g><g id="w229" class="n"><circle cx="396" cy="433" r="5"/></g><g id="w230" class="n"><circle cx="300" cy="419" r="9"/></g><g id="w231" class="n"><circle cx="340" cy="430" r="6"/></g><g id="w232" class="n"><circle cx="299" cy="387" r="3"/></g><g id="w233" class="n"><circle cx="309" cy="450" r="4"/></g><g id="w234" class="n"><circle cx="348" cy="450" r="5"/></g><g id="w235" class="n"><circle cx="369" cy="472" r="5"/></g><g id="w236" class="n"><circle cx="393" cy="474" r="6"/></g><g id="w237" class="n"><circle cx="343" cy="471" r="3"/></g><g id="w238" class="n"><circle cx="406" cy="474" r="3"/></g><g id="w239" class="n"><circle cx="434" cy="475" r="3"/></g><g id="w240" class="n"><circle cx="443" cy="477" r="3"/></g><g id="w241" class="n"><circle cx="440" cy="455" r="3"/></g><g id="w242" class="n"><circle cx="435" cy="498" r="3"/></g><g id="w243" class="n"><circle cx="460" cy="445" r="4"/></g><g id="w244" class="n"><circle cx="491" cy="430" r="7"/></g><g id="w245" class="n"><circle cx="506" cy="463" r="5"/></g><g id="w246" class="n"><circle cx="563" cy="395" r="3"/></g><g id="w247" class="n"><circle cx="559" cy="439" r="12"/></g><g id="w248" class="n"><circle cx="541" cy="458" r="5"/></g><g id="w249" class="n"><circle cx="573" cy="457" r="5"/></g><g id="w250" class="n"><circle cx="519" cy="490" r="3"/></g><g id="w251" class="n"><circle cx="555" cy="486" r="3"/></g><g id="w252" class="n"><circle cx="571" cy="488" r="6"/></g><g id="w253" class="n"><circle cx="588" cy="470" r="3"/></g>
<g id="w254" class="n"><circle cx="734" cy="347" r="4"/></g><g id="w255" class="n"><circle cx="788" cy="363" r="3"/></g><g id="w256" class="n"><circle cx="834" cy="378" r="5"/></g><g id="w257" class="n"><circle cx="783" cy="377" r="5"/></g><g id="w258" class="n"><circle cx="689" cy="387" r="5"/></g><g id="w259" class="n"><circle cx="602" cy="384" r="5"/></g><g id="w260" class="n"><circle cx="624" cy="390" r="12"/></g><g id="w261" class="n"><circle cx="647" cy="379" r="5"/></g><g id="w262" class="n"><circle cx="839" cy="405" r="9"/></g><g id="w263" class="n"><circle cx="794" cy="421" r="9"/></g><g id="w264" class="n"><circle cx="875" cy="421" r="3"/></g><g id="w265" class="n"><circle cx="858" cy="433" r="6"/></g><g id="w266" class="n"><circle cx="815" cy="439" r="4"/></g><g id="w267" class="n"><circle cx="723" cy="411" r="3"/></g><g id="w268" class="n"><circle cx="659" cy="449" r="14"/></g><g id="w269" class="n"><circle cx="715" cy="441" r="11"/></g><g id="w270" class="n"><circle cx="679" cy="443" r="4"/></g><g id="w271" class="n"><circle cx="641" cy="456" r="5"/></g><g id="w272" class="n"><circle cx="674" cy="460" r="4"/></g><g id="w273" class="n"><circle cx="820" cy="451" r="8"/></g><g id="w274" class="n"><circle cx="835" cy="467" r="8"/></g><g id="w275" class="n"><circle cx="723" cy="474" r="8"/></g><g id="w276" class="n"><circle cx="748" cy="469" r="4"/></g><g id="w277" class="n"><circle cx="763" cy="471" r="7"/></g><g id="w278" class="n"><circle cx="794" cy="476" r="8"/></g><g id="w279" class="n"><circle cx="840" cy="480" r="5"/></g><g id="w280" class="n"><circle cx="687" cy="478" r="5"/></g><g id="w281" class="n"><circle cx="721" cy="487" r="5"/></g><g id="w282" class="n"><circle cx="638" cy="490" r="5"/></g><g id="w283" class="n"><circle cx="657" cy="491" r="4"/></g><g id="w284" class="n"><circle cx="774" cy="497" r="8"/></g><g id="w285" class="n"><circle cx="885" cy="454" r="3"/></g>
<g id="w286" class="n"><circle cx="909" cy="359" r="9"/></g><g id="w287" class="n"><circle cx="951" cy="367" r="7"/></g><g id="w288" class="n"><circle cx="959" cy="361" r="5"/></g><g id="w289" class="n"><circle cx="979" cy="367" r="5"/></g><g id="w290" class="n"><circle cx="1043" cy="349" r="10"/></g><g id="w291" class="n"><circle cx="1047" cy="361" r="4"/></g><g id="w292" class="n"><circle cx="1056" cy="365" r="4"/></g><g id="w293" class="n"><circle cx="1083" cy="361" r="5"/></g><g id="w294" class="n"><circle cx="1111" cy="346" r="4"/></g><g id="w295" class="n"><circle cx="1047" cy="383" r="6"/></g><g id="w296" class="n"><circle cx="1035" cy="396" r="5"/></g><g id="w297" class="n"><circle cx="1004" cy="411" r="4"/></g><g id="w298" class="n"><circle cx="907" cy="389" r="9"/></g><g id="w299" class="n"><circle cx="954" cy="387" r="5"/></g><g id="w300" class="n"><circle cx="973" cy="405" r="5"/></g><g id="w301" class="n"><circle cx="911" cy="412" r="9"/></g><g id="w302" class="n"><circle cx="988" cy="421" r="6"/></g><g id="w303" class="n"><circle cx="996" cy="420" r="4"/></g><g id="w304" class="n"><circle cx="951" cy="432" r="6"/></g><g id="w305" class="n"><circle cx="925" cy="446" r="5"/></g><g id="w306" class="n"><circle cx="899" cy="455" r="5"/></g>
<g id="jacqueline" class="k"><circle cx="97" cy="168" r="16"/><text x="120" y="171" textLength="446" lengthAdjust="spacingAndGlyphs">Jacqueline Veneroso Alves da Cunha</text></g>
<g id="ilse" class="k"><circle cx="624" cy="148" r="21"/><text x="650" y="149" textLength="207" lengthAdjust="spacingAndGlyphs">Ilse Maria Beuren</text></g>
<g id="marcelo" class="k"><circle cx="774" cy="118" r="17"/><text x="799" y="123" textLength="380" lengthAdjust="spacingAndGlyphs">Marcelo Alvaro da Silva Macedo</text></g>
<g id="jose" class="k"><circle cx="750" cy="181" r="17"/><text x="775" y="183" textLength="392" lengthAdjust="spacingAndGlyphs">José Carlos Tiomatsu Oyadomari</text></g>
<g id="edson" class="k"><circle cx="786" cy="203" r="13"/><text x="805" y="209" textLength="203" lengthAdjust="spacingAndGlyphs">Edson Luiz Riccio</text></g>
<g id="ricardo" class="k"><circle cx="831" cy="240" r="17"/><text x="857" y="243" textLength="272" lengthAdjust="spacingAndGlyphs">Ricardo Lopes Cardoso</text></g>
<g id="octavio" class="k"><circle cx="734" cy="274" r="18"/><text x="759" y="277" textLength="414" lengthAdjust="spacingAndGlyphs">Octavio Ribeiro de Mendonça Neto</text></g>
<g id="maria" class="k"><circle cx="751" cy="300" r="18"/><text x="775" y="304" textLength="369" lengthAdjust="spacingAndGlyphs">Maria Thereza Pompa Antunes</text></g>
<g id="rogerio" class="k"><circle cx="890" cy="333" r="15"/><text x="914" y="339" textLength="247" lengthAdjust="spacingAndGlyphs">Rogério João Lunkes</text></g>
<g id="jorge" class="k"><circle cx="458" cy="420" r="19"/><text x="487" y="424" textLength="263" lengthAdjust="spacingAndGlyphs">Jorge Katsumi Niyama</text></g>
</svg>
